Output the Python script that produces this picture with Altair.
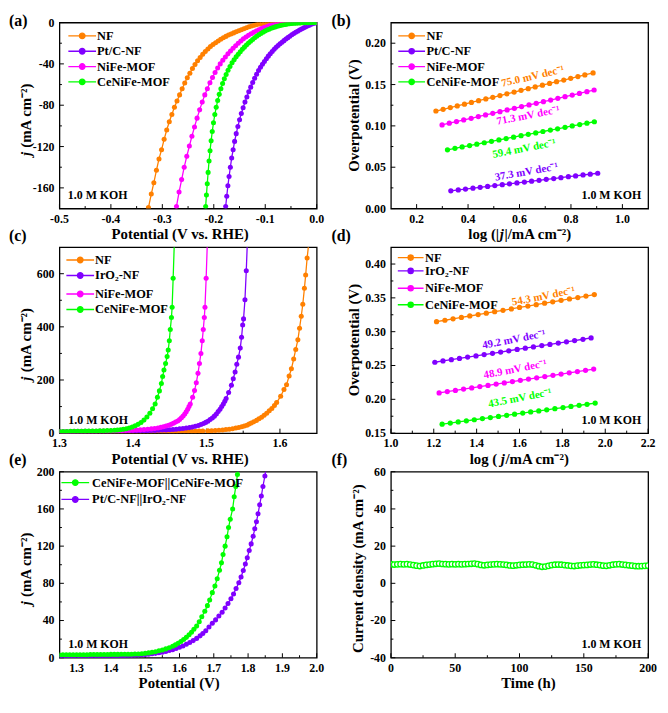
import altair as alt
import pandas as pd

FONT = "Liberation Serif"
W, H = 260, 188
TY = H + 26  # x-axis title position
ORANGE, PURPLE, MAGENTA, GREEN = "#FF8000", "#8000FF", "#FF00FF", "#00FF00"

# ---------------- (a) HER polarization ----------------
A_NF_X = [-0.3270,-0.3215,-0.3165,-0.3115,-0.3065,-0.3015,-0.2965,-0.2915,-0.2865,-0.2815,-0.2765,-0.2715,-0.2665,-0.2615,-0.2565,-0.2515,-0.2465,-0.2415,-0.2365,-0.2315,-0.2265,-0.2215,-0.2165,-0.2115,-0.2065,-0.2015,-0.1965,-0.1915,-0.1865,-0.1815,-0.1765,-0.1715,-0.1665,-0.1615,-0.1565,-0.1515,-0.1465,-0.1415,-0.1365,-0.1315,-0.1265,-0.1215,-0.1165,-0.1115,-0.1065,-0.1015,-0.0965,-0.0915,-0.0865,-0.0815,-0.0765,-0.0715,-0.0665,-0.0615,-0.0565,-0.0515,-0.0465,-0.0415,-0.0365,-0.0315,-0.0265,-0.0215,-0.0165,-0.0115,-0.0065,-0.0015]
A_NF_Y = [-179,-166,-155,-143,-132,-123,-113,-104,-96,-89,-82,-76,-70,-64,-58.5,-53.5,-49,-44.5,-40.5,-37,-33.8,-30.8,-28,-25.5,-23.3,-21.3,-19.5,-17.8,-16.2,-14.8,-13.4,-12.1,-11.0,-10.0,-9.0,-8.0,-7.0,-6.0,-5.0,-4.1,-3.3,-2.6,-2.0,-1.5,-1.15,-0.9,-0.7,-0.55,-0.45,-0.35,-0.3,-0.25,-0.2,-0.17,-0.15,-0.13,-0.11,-0.09,-0.08,-0.07,-0.06,-0.05,-0.04,-0.03,-0.02,-0.01]
A_PT_X = [-0.1769,-0.1748,-0.1726,-0.1703,-0.1678,-0.1652,-0.1624,-0.1595,-0.1564,-0.1532,-0.1499,-0.1465,-0.1430,-0.1394,-0.1357,-0.1320,-0.1282,-0.1244,-0.1206,-0.1168,-0.1130,-0.1092,-0.1054,-0.1016,-0.0978,-0.0940,-0.0902,-0.0864,-0.0826,-0.0788,-0.0750,-0.0712,-0.0674,-0.0636,-0.0598,-0.0560,-0.0522,-0.0484,-0.0446,-0.0408,-0.0370,-0.0332,-0.0294,-0.0256,-0.0218,-0.0180,-0.0142,-0.0104,-0.0066,-0.0028]
A_PT_Y = [-178,-168,-158,-149,-140,-131,-123,-115,-107.5,-100.5,-94,-88,-82.5,-77,-72,-67,-62.5,-58,-54,-50,-46.5,-43.2,-40.3,-37.6,-35,-32.5,-30.2,-28,-25.9,-24,-22.2,-20.5,-19,-17.5,-16,-14.6,-13.2,-11.9,-10.7,-9.5,-8.4,-7.3,-6.3,-5.3,-4.3,-3.4,-2.5,-1.7,-1.0,-0.4]
A_NIFE_X = [-0.2725,-0.2675,-0.2625,-0.2575,-0.2525,-0.2475,-0.2425,-0.2375,-0.2325,-0.2275,-0.2225,-0.2175,-0.2125,-0.2075,-0.2025,-0.1975,-0.1925,-0.1875,-0.1825,-0.1775,-0.1725,-0.1675,-0.1625,-0.1575,-0.1525,-0.1475,-0.1425,-0.1375,-0.1325,-0.1275,-0.1225,-0.1175,-0.1125,-0.1075,-0.1025,-0.0975,-0.0925,-0.0875,-0.0825,-0.0775,-0.0725,-0.0675,-0.0625,-0.0575,-0.0525,-0.0475,-0.0425,-0.0375,-0.0325,-0.0275,-0.0225,-0.0175,-0.0125,-0.0075,-0.0025]
A_NIFE_Y = [-178,-164,-152,-140,-129.5,-119.5,-110,-101,-92.5,-84.5,-77,-70,-64,-58.3,-53.2,-48.4,-44,-40,-36.5,-33.3,-30.3,-27.5,-24.9,-22.4,-20.0,-17.8,-15.8,-14.0,-12.4,-10.9,-9.5,-8.2,-7.0,-5.9,-4.9,-4.0,-3.2,-2.5,-1.9,-1.45,-1.1,-0.85,-0.65,-0.5,-0.4,-0.32,-0.25,-0.2,-0.16,-0.12,-0.09,-0.06,-0.04,-0.02,-0.01]
A_CE_X = [-0.2158,-0.2143,-0.2127,-0.2110,-0.2092,-0.2073,-0.2052,-0.2030,-0.2006,-0.1980,-0.1953,-0.1924,-0.1894,-0.1862,-0.1829,-0.1795,-0.1760,-0.1723,-0.1685,-0.1645,-0.1605,-0.1565,-0.1525,-0.1485,-0.1445,-0.1405,-0.1365,-0.1325,-0.1285,-0.1245,-0.1205,-0.1165,-0.1125,-0.1085,-0.1045,-0.1005,-0.0965,-0.0925,-0.0885,-0.0845,-0.0805,-0.0765,-0.0725,-0.0685,-0.0645,-0.0605,-0.0565,-0.0525,-0.0485,-0.0445,-0.0405,-0.0365,-0.0325,-0.0285,-0.0245,-0.0205,-0.0165,-0.0125,-0.0085,-0.0045,-0.0005]
A_CE_Y = [-178,-167,-156,-145,-134,-124,-114.5,-105.5,-97,-89,-82,-75.5,-69.5,-64,-59,-54.5,-50.2,-46.2,-42.5,-39,-36,-33.2,-30.6,-28.2,-25.9,-23.8,-21.8,-19.9,-18.1,-16.4,-14.8,-13.3,-11.9,-10.6,-9.4,-8.3,-7.3,-6.4,-5.6,-4.9,-4.2,-3.6,-3.1,-2.6,-2.2,-1.85,-1.5,-1.2,-0.95,-0.75,-0.6,-0.45,-0.35,-0.27,-0.2,-0.15,-0.1,-0.07,-0.04,-0.02,0]

# ---------------- (b) HER Tafel ----------------
B_NF_X = [0.275,0.303,0.331,0.358,0.386,0.413,0.441,0.469,0.496,0.524,0.551,0.579,0.606,0.634,0.661,0.689,0.717,0.744,0.772,0.799,0.827,0.854,0.886]
B_NF_Y = [0.1180,0.1201,0.1222,0.1242,0.1263,0.1284,0.1305,0.1326,0.1346,0.1367,0.1388,0.1409,0.1430,0.1450,0.1471,0.1492,0.1513,0.1534,0.1554,0.1575,0.1596,0.1617,0.1640]
B_PT_X = [0.333,0.362,0.390,0.419,0.447,0.476,0.504,0.533,0.561,0.590,0.619,0.647,0.676,0.704,0.733,0.761,0.790,0.818,0.847,0.875,0.904]
B_PT_Y = [0.0214,0.0225,0.0235,0.0246,0.0257,0.0267,0.0278,0.0289,0.0299,0.0310,0.0321,0.0331,0.0342,0.0353,0.0363,0.0374,0.0385,0.0395,0.0406,0.0416,0.0427]
B_NIFE_X = [0.299,0.327,0.355,0.383,0.412,0.440,0.468,0.496,0.524,0.552,0.580,0.608,0.637,0.665,0.693,0.721,0.749,0.777,0.805,0.833,0.862,0.890]
B_NIFE_Y = [0.1012,0.1032,0.1052,0.1072,0.1092,0.1112,0.1132,0.1152,0.1172,0.1193,0.1213,0.1233,0.1253,0.1273,0.1293,0.1313,0.1333,0.1353,0.1373,0.1393,0.1413,0.1434]
B_CE_X = [0.320,0.349,0.377,0.406,0.434,0.463,0.491,0.520,0.548,0.577,0.606,0.634,0.663,0.691,0.720,0.748,0.777,0.805,0.834,0.862,0.891]
B_CE_Y = [0.0711,0.0728,0.0745,0.0762,0.0779,0.0796,0.0813,0.0830,0.0847,0.0864,0.0881,0.0898,0.0915,0.0932,0.0949,0.0965,0.0982,0.0999,0.1016,0.1033,0.1050]

# ---------------- (c) OER polarization ----------------
C_NF_X = [1.300,1.305,1.310,1.315,1.320,1.325,1.330,1.335,1.340,1.345,1.350,1.355,1.360,1.365,1.370,1.375,1.380,1.385,1.390,1.395,1.400,1.405,1.410,1.415,1.420,1.425,1.430,1.435,1.440,1.445,1.450,1.455,1.460,1.465,1.470,1.475,1.480,1.485,1.490,1.495,
          1.502,1.507,1.512,1.517,1.522,1.5265,1.531,1.5355,1.540,1.544,1.548,1.5515,1.555,1.558,1.561,1.5645,1.568,1.5715,1.575,1.5785,1.582,1.5855,1.589,1.5925,1.5955,1.601,1.6055,1.609,1.6125,1.6156,1.6187,1.6215,1.6244,1.6267,1.629,1.6311,1.6333,1.635,1.637,1.641]
C_NF_Y = [4.5,4.5,4.6,4.6,4.7,4.7,4.8,4.8,4.9,4.9,5.0,5.0,5.1,5.1,5.2,5.2,5.3,5.4,5.4,5.5,5.6,5.6,5.7,5.8,5.9,6.0,6.1,6.2,6.3,6.4,6.5,6.6,6.7,6.8,6.9,7.0,7.2,7.4,7.6,7.9,
          8.5,9.2,10,11,12,13.4,15,16.9,19,21.4,24,27,30,34,38,43,48,54,60,67,75,84,93,104,115,139,164,182,215,242,279,315,351,395,440,485,545,595,659,760]
C_IR_X = [1.300,1.305,1.310,1.315,1.320,1.325,1.330,1.335,1.340,1.345,1.350,1.355,1.360,1.365,1.370,1.375,1.380,1.385,1.390,1.395,1.400,1.405,1.410,1.415,1.420,1.425,1.430,1.435,1.440,1.445,
          1.450,1.4545,1.459,1.4635,1.468,1.4725,1.477,1.481,1.485,1.489,1.4925,1.496,1.499,1.502,1.505,1.508,1.5108,1.5135,1.516,1.5185,1.5208,1.523,1.525,1.5268,1.5302,1.534,1.5365,1.539,1.5413,1.5436,1.546,1.5478,1.5493,1.5505,1.5524,1.5542,1.5565]
C_IR_Y = [5.0,5.1,5.2,5.3,5.4,5.5,5.6,5.7,5.8,5.9,6.0,6.2,6.3,6.5,6.7,6.9,7.1,7.3,7.5,7.8,8.0,8.3,8.6,8.9,9.3,9.7,10.2,10.8,11.5,12.2,
          13.0,13.9,14.9,16.1,17.4,19,20.8,23,25.7,29,32.3,36,40.5,45,51,57,64,72,81,90,100,110,120,130,153,180,205,230,259,286,320,361,407,430,502,611,780]
C_NIFE_X = [1.300,1.305,1.310,1.315,1.320,1.325,1.330,1.335,1.340,1.345,1.350,1.355,1.360,1.365,1.370,1.375,1.380,1.385,1.390,1.395,1.400,1.405,1.410,1.415,1.420,1.425,
            1.4295,1.434,1.438,1.4415,1.445,1.4485,1.452,1.455,1.458,1.461,1.4635,1.466,1.4683,1.4705,1.4725,1.4745,1.4763,1.478,1.4812,1.4838,1.4862,1.4885,1.4905,1.4925,1.4943,1.4957,1.4971,1.498,1.4996,1.502]
C_NIFE_Y = [6.2,6.3,6.4,6.5,6.6,6.7,6.8,6.9,7.0,7.2,7.4,7.6,7.8,8.0,8.3,8.6,8.9,9.3,9.7,10.2,10.8,11.5,12.3,13.3,14.5,16,
            17.7,19.6,21.7,24,26.5,29.5,33,37,41.5,46,51.5,58,64.5,72,80.5,90,100,110,135,160,190,225,262,300,348,390,435,474,583,780]
C_CE_X = [1.300,1.305,1.310,1.315,1.320,1.325,1.330,1.335,1.340,1.345,1.350,1.355,1.360,1.365,1.370,1.375,
          1.379,1.383,1.387,1.391,1.395,1.399,1.403,1.407,1.411,1.415,1.419,1.423,1.4267,1.4302,1.4333,1.436,1.4387,1.4404,1.4422,1.4444,1.4465,1.448,1.4495,1.4508,1.4524,1.4533,1.4547,1.4572]
C_CE_Y = [6.2,6.3,6.5,6.7,6.9,7.1,7.3,7.5,7.8,8.1,8.4,8.8,9.2,9.7,10.3,11.0,
          11.9,13.1,14.7,16.8,19.5,23,27.5,33,40,49,61,75,92,110,135,159,187,213,238,262,288,313,348,390,435,474,583,790]

# ---------------- (d) OER Tafel ----------------
D_NF_X = [1.213,1.252,1.290,1.329,1.368,1.407,1.445,1.484,1.523,1.562,1.600,1.639,1.678,1.717,1.755,1.794,1.833,1.872,1.910,1.949]
D_NF_Y = [0.3148,0.3169,0.3190,0.3211,0.3232,0.3253,0.3274,0.3295,0.3316,0.3337,0.3358,0.3379,0.3400,0.3421,0.3442,0.3463,0.3484,0.3505,0.3526,0.3548]
D_IR_X = [1.205,1.243,1.282,1.320,1.358,1.397,1.435,1.474,1.512,1.550,1.589,1.627,1.665,1.704,1.742,1.781,1.819,1.857,1.896,1.934]
D_IR_Y = [0.2548,0.2567,0.2586,0.2605,0.2624,0.2642,0.2661,0.2680,0.2699,0.2718,0.2737,0.2756,0.2775,0.2794,0.2812,0.2831,0.2850,0.2869,0.2888,0.2907]
D_NIFE_X = [1.225,1.263,1.301,1.339,1.377,1.415,1.453,1.491,1.529,1.567,1.604,1.642,1.680,1.718,1.756,1.794,1.832,1.870,1.908,1.946]
D_NIFE_Y = [0.2095,0.2114,0.2132,0.2151,0.2169,0.2188,0.2206,0.2225,0.2243,0.2262,0.2281,0.2299,0.2318,0.2336,0.2355,0.2373,0.2392,0.2410,0.2429,0.2448]
D_CE_X = [1.239,1.277,1.314,1.352,1.389,1.427,1.464,1.502,1.540,1.577,1.615,1.652,1.690,1.727,1.765,1.803,1.840,1.878,1.915,1.953]
D_CE_Y = [0.1633,0.1649,0.1666,0.1682,0.1698,0.1715,0.1731,0.1747,0.1764,0.1780,0.1796,0.1813,0.1829,0.1845,0.1862,0.1878,0.1895,0.1911,0.1927,0.1944]

# ---------------- (e) overall water splitting ----------------
E_CE_X = [1.25,1.26,1.27,1.28,1.29,1.30,1.31,1.32,1.33,1.34,1.35,1.36,1.37,1.38,1.39,1.40,1.41,1.42,1.43,1.44,1.45,1.46,1.47,
          1.48,1.49,1.50,1.51,1.52,1.53,1.54,1.55,1.56,1.57,1.58,1.588,1.596,1.604,1.612,1.62,1.628,1.635,1.642,1.65,1.6576,1.665,1.6738,1.6814,1.688,1.6957,1.7033,1.71,1.7167,1.7224,1.727,1.733,1.7386,1.743,1.748,1.755,1.7595,1.764,1.769,1.774]
E_CE_Y = [3.0,3.1,3.1,3.2,3.2,3.2,3.3,3.3,3.3,3.4,3.4,3.4,3.5,3.5,3.5,3.6,3.6,3.6,3.7,3.7,3.8,3.8,3.9,
          4.0,4.3,4.7,5.2,5.8,6.5,7.4,8.4,9.5,10.8,12.3,13.8,15.5,17.4,19.5,21.9,24.6,27.5,30.6,34,38.6,44,50,56,62,70,77,85,94,102,111,120,130,140,149,160,173,184,197,210]
E_PT_X = [1.25,1.26,1.27,1.28,1.29,1.30,1.31,1.32,1.33,1.34,1.35,1.36,1.37,1.38,1.39,1.40,1.41,1.42,1.43,1.44,1.45,
          1.46,1.47,1.48,1.49,1.50,1.51,1.52,1.53,1.54,1.55,1.56,1.57,1.58,1.59,1.60,1.61,1.62,1.63,1.64,1.65,1.66,1.668,1.6767,1.686,1.6957,1.7052,1.7148,1.7243,1.733,1.7414,1.75,1.7576,1.765,1.773,1.7795,1.786,1.792,1.7976,1.8033,1.809,1.8148,1.8195,1.8243,1.829,1.8338,1.8386,1.8433,1.849,1.853]
E_PT_Y = [1.5,1.5,1.5,1.6,1.6,1.6,1.6,1.7,1.7,1.7,1.8,1.8,1.8,1.9,1.9,2.0,2.0,2.1,2.2,2.2,2.3,
          2.4,2.6,2.8,3.1,3.4,3.8,4.2,4.7,5.3,6.0,6.8,7.7,8.7,9.9,11.2,12.7,14.4,16.3,18.4,20.8,23.5,26,29,33,37,40.7,44.8,49,53.4,58.3,63.4,68.6,74.5,80.7,86.9,93.8,100.7,107.6,115.2,122.4,130.7,138.6,146.2,154.8,164.5,173.8,184.1,195.5,204]

# ---------------- (f) stability ----------------
F_T = [0,2.5,5,7.5,10,12.5,15,17.5,20,22.5,25,27.5,30,32.5,35,37.5,40,42.5,45,47.5,50,52.5,55,57.5,60,62.5,65,67.5,70,72.5,75,77.5,80,82.5,85,87.5,90,92.5,95,97.5,100,
       102.5,105,107.5,110,112.5,115,117.5,120,122.5,125,127.5,130,132.5,135,137.5,140,142.5,145,147.5,150,152.5,155,157.5,160,162.5,165,167.5,170,172.5,175,177.5,180,182.5,185,187.5,190,192.5,195,197.5,200]
F_J = [10.3,10.1,10.2,10.3,10.2,10.3,10.1,9.8,9.5,9.3,9.6,9.9,10.1,10.3,10.5,10.6,10.4,10.3,10.2,10.3,10.2,10.3,10.2,10.3,10.4,10.5,10.6,10.3,9.9,9.7,9.9,10.1,10.2,10.3,10.2,10.1,9.9,9.6,9.5,9.7,9.9,
       10.0,10.1,10.2,10.1,9.7,9.2,8.9,9.0,9.4,9.8,10.0,10.1,10.0,9.8,9.6,9.4,9.3,9.5,9.7,9.8,9.9,10.1,10.2,10.0,9.8,9.5,9.4,9.7,10.0,10.2,10.3,10.1,9.9,9.7,9.5,9.3,9.2,9.3,9.4,9.5]

# ---------------- labels ----------------
NAMES_HER = ["NF", "Pt/C-NF", "NiFe-MOF", "CeNiFe-MOF"]
NAMES_OER = ["NF", "IrO\u2082-NF", "NiFe-MOF", "CeNiFe-MOF"]
NAMES_OWS = ["CeNiFe-MOF||CeNiFe-MOF", "Pt/C-NF||IrO\u2082-NF"]
COLORS4 = [ORANGE, PURPLE, MAGENTA, GREEN]
TAFEL_B = ["75.0 mV dec\u207b\u00b9", "37.3 mV dec\u207b\u00b9", "71.3 mV dec\u207b\u00b9", "59.4 mV dec\u207b\u00b9"]
TAFEL_D = ["54.3 mV dec\u207b\u00b9", "49.2 mV dec\u207b\u00b9", "48.9 mV dec\u207b\u00b9", "43.5 mV dec\u207b\u00b9"]

for a, b in [(A_NF_X, A_NF_Y), (A_PT_X, A_PT_Y), (A_NIFE_X, A_NIFE_Y), (A_CE_X, A_CE_Y),
             (C_NF_X, C_NF_Y), (C_IR_X, C_IR_Y), (C_NIFE_X, C_NIFE_Y), (C_CE_X, C_CE_Y),
             (E_CE_X, E_CE_Y), (E_PT_X, E_PT_Y), (F_T, F_J)]:
    assert len(a) == len(b), (len(a), len(b))

SHAPE = "M-1,0L1,0M0.2,0A0.2,0.2,0,1,1,-0.2,0A0.2,0.2,0,1,1,0.2,0Z"


def sc(dom):
    return alt.Scale(domain=dom, nice=False, zero=False)


def fmt(v, f):
    return str(int(round(v))) if f == "d" else format(v, f)


def txt(t, x, y, size=12, color="black", align="left", baseline="middle", angle=0, style="normal"):
    return alt.Chart(pd.DataFrame({"t": [t]})).mark_text(
        align=align, baseline=baseline, angle=angle, font=FONT, fontSize=size,
        fontWeight="bold", fontStyle=style, color=color).encode(
        x=alt.value(x), y=alt.value(y), text=alt.Text("t:N"))


def series(xs, ys, color, xs_, ys_, size=26, hollow=False):
    df = pd.DataFrame({"x": xs, "y": ys})
    enc = dict(x=alt.X("x:Q", scale=xs_, axis=None), y=alt.Y("y:Q", scale=ys_, axis=None))
    out = []
    if not hollow:
        out.append(alt.Chart(df).mark_line(color=color, strokeWidth=1.3, clip=True).encode(**enc))
        out.append(alt.Chart(df).mark_circle(color=color, size=size, opacity=1, clip=True).encode(**enc))
    else:
        out.append(alt.Chart(df).mark_point(shape="circle", filled=False, fill="white", fillOpacity=1,
                                            stroke=color, strokeWidth=1.3, size=size, opacity=1,
                                            clip=True).encode(**enc))
    return out


def ticks(xmaj, xmin, ymaj, ymin, xs_, ys_, xlab, xf, ylab, yf):
    out = []
    out.append(alt.Chart(pd.DataFrame({"v": xmaj})).mark_rule(color="black", strokeWidth=1).encode(
        x=alt.X("v:Q", scale=xs_, axis=None), y=alt.value(H), y2=alt.value(H - 4.5)))
    out.append(alt.Chart(pd.DataFrame({"v": xmin})).mark_rule(color="black", strokeWidth=1).encode(
        x=alt.X("v:Q", scale=xs_, axis=None), y=alt.value(H), y2=alt.value(H - 2.5)))
    out.append(alt.Chart(pd.DataFrame({"v": ymaj})).mark_rule(color="black", strokeWidth=1).encode(
        y=alt.Y("v:Q", scale=ys_, axis=None), x=alt.value(0), x2=alt.value(4.5)))
    out.append(alt.Chart(pd.DataFrame({"v": ymin})).mark_rule(color="black", strokeWidth=1).encode(
        y=alt.Y("v:Q", scale=ys_, axis=None), x=alt.value(0), x2=alt.value(2.5)))
    xl = pd.DataFrame({"v": xlab, "t": [fmt(v, xf) for v in xlab]})
    out.append(alt.Chart(xl).mark_text(font=FONT, fontSize=12, fontWeight="bold", color="black",
                                       align="center", baseline="top").encode(
        x=alt.X("v:Q", scale=xs_, axis=None), y=alt.value(H + 5.5), text=alt.Text("t:N")))
    yl = pd.DataFrame({"v": ylab, "t": [fmt(v, yf) for v in ylab]})
    out.append(alt.Chart(yl).mark_text(font=FONT, fontSize=12, fontWeight="bold", color="black",
                                       align="right", baseline="middle").encode(
        y=alt.Y("v:Q", scale=ys_, axis=None), x=alt.value(-5), text=alt.Text("t:N")))
    return out


def legend(names, colors, rows, cx, length, lx, size=12.5):
    out = []
    for n, c, r in zip(names, colors, rows):
        df = pd.DataFrame({"t": [n]})
        out.append(alt.Chart(df).mark_point(shape=SHAPE, filled=True, fill=c, stroke=c, strokeWidth=1.4,
                                            size=length ** 2, opacity=1).encode(
            x=alt.value(cx), y=alt.value(r)))
        out.append(alt.Chart(df).mark_text(align="left", baseline="middle", font=FONT, fontSize=size,
                                           fontWeight="bold", color="black").encode(
            x=alt.value(lx), y=alt.value(r), text=alt.Text("t:N")))
    return out


def annot(t, x, y, color, xs_, ys_, angle):
    df = pd.DataFrame({"x": [x], "y": [y], "t": [t]})
    return alt.Chart(df).mark_text(font=FONT, fontSize=11, fontWeight="bold", color=color, angle=angle,
                                   align="center", baseline="middle").encode(
        x=alt.X("x:Q", scale=xs_, axis=None), y=alt.Y("y:Q", scale=ys_, axis=None), text=alt.Text("t:N"))


def jtitle(x, cy):
    return [txt("j", x, cy + 37, size=15, align="left", angle=270, style="italic"),
            txt("(mA cm\u207b\u00b2)", x, cy + 28.5, size=15, align="left", angle=270)]


# ---------------- panel (a) ----------------
xa, ya = sc([-0.5, 0.0]), sc([-180, 0])
La = ticks([-0.5, -0.4, -0.3, -0.2, -0.1, 0.0], [-0.45, -0.35, -0.25, -0.15, -0.05],
           [0, -40, -80, -120, -160], [-20, -60, -100, -140], xa, ya,
           [-0.5, -0.4, -0.3, -0.2, -0.1, 0.0], ".1f", [0, -40, -80, -120, -160], "d")
for (xs, ys), c in zip([(A_NF_X, A_NF_Y), (A_PT_X, A_PT_Y), (A_NIFE_X, A_NIFE_Y), (A_CE_X, A_CE_Y)], COLORS4):
    La += series(xs, ys, c, xa, ya)
La += legend(NAMES_HER, COLORS4, [13.5, 29, 44.5, 60], 23, 28, 38)
La += [txt("1.0 M KOH", 8.5, H - 14), txt("Potential (V vs. RHE)", W / 2 - 8, TY, size=15, align="center")]
La += jtitle(-34, H / 2 + 4)
La += [txt("(a)", -51, -10, size=16, baseline="top")]
pa = alt.layer(*La).properties(width=W, height=H)

# ---------------- panel (b) ----------------
xb, yb = sc([0.1, 1.1]), sc([0.0, 0.225])
Lb = ticks([0.2, 0.4, 0.6, 0.8, 1.0], [0.3, 0.5, 0.7, 0.9],
           [0.0, 0.05, 0.10, 0.15, 0.20], [0.025, 0.075, 0.125, 0.175], xb, yb,
           [0.2, 0.4, 0.6, 0.8, 1.0], ".1f", [0.0, 0.05, 0.10, 0.15, 0.20], ".2f")
for (xs, ys), c in zip([(B_NF_X, B_NF_Y), (B_PT_X, B_PT_Y), (B_NIFE_X, B_NIFE_Y), (B_CE_X, B_CE_Y)], COLORS4):
    Lb += series(xs, ys, c, xb, yb, size=28)
Lb += legend(NAMES_HER, COLORS4, [13.5, 29, 44.5, 60], 21, 27, 36)
Lb += [annot(TAFEL_B[0], 0.652, 0.1595, ORANGE, xb, yb, 347),
       annot(TAFEL_B[2], 0.634, 0.1122, MAGENTA, xb, yb, 349),
       annot(TAFEL_B[3], 0.618, 0.0722, GREEN, xb, yb, 349),
       annot(TAFEL_B[1], 0.627, 0.0440, PURPLE, xb, yb, 350)]
Lb += [txt("1.0 M KOH", W - 7, H - 13.5, align="right"),
       txt("Overpotential (V)", -37, H / 2, size=15, align="center", angle=270),
       txt("log (|", W / 2 - 20.6, TY, size=15, align="right"),
       txt("j", W / 2 - 18, TY, size=15, align="center", style="italic"),
       txt("|/mA cm\u207b\u00b2)", W / 2 - 15.2, TY, size=15, align="left"),
       txt("(b)", -60, -10, size=16, baseline="top")]
pb = alt.layer(*Lb).properties(width=W, height=H)

# ---------------- panel (c) ----------------
xc, yc = sc([1.3, 1.65]), sc([0, 700])
Lc = ticks([1.3, 1.4, 1.5, 1.6], [1.35, 1.45, 1.55], [0, 200, 400, 600], [100, 300, 500], xc, yc,
           [1.3, 1.4, 1.5, 1.6], ".1f", [0, 200, 400, 600], "d")
for (xs, ys), c in zip([(C_NF_X, C_NF_Y), (C_IR_X, C_IR_Y), (C_NIFE_X, C_NIFE_Y), (C_CE_X, C_CE_Y)], COLORS4):
    Lc += series(xs, ys, c, xc, yc)
Lc += legend(NAMES_OER, COLORS4, [13, 28.7, 47.3, 63], 21, 28, 36)
Lc += [txt("1.0 M KOH", 9, H - 13), txt("Potential (V vs. RHE)", W / 2 - 8, TY, size=15, align="center")]
Lc += jtitle(-34, H / 2 + 4)
Lc += [txt("(c)", -51, -19, size=16, baseline="top")]
pc = alt.layer(*Lc).properties(width=W, height=H)

# ---------------- panel (d) ----------------
xd, yd = sc([1.0, 2.2]), sc([0.15, 0.425])
Ld = ticks([1.0, 1.2, 1.4, 1.6, 1.8, 2.0, 2.2], [1.1, 1.3, 1.5, 1.7, 1.9, 2.1],
           [0.15, 0.20, 0.25, 0.30, 0.35, 0.40], [0.175, 0.225, 0.275, 0.325, 0.375], xd, yd,
           [1.0, 1.2, 1.4, 1.6, 1.8, 2.0, 2.2], ".1f", [0.15, 0.20, 0.25, 0.30, 0.35, 0.40], ".2f")
for (xs, ys), c in zip([(D_NF_X, D_NF_Y), (D_IR_X, D_IR_Y), (D_NIFE_X, D_NIFE_Y), (D_CE_X, D_CE_Y)], COLORS4):
    Ld += series(xs, ys, c, xd, yd, size=28)
Ld += legend(NAMES_OER, COLORS4, [10.6, 24, 41.6, 58.3], 20, 26, 34.5)
Ld += [annot(TAFEL_D[0], 1.712, 0.352, ORANGE, xd, yd, 349),
       annot(TAFEL_D[1], 1.574, 0.288, PURPLE, xd, yd, 349),
       annot(TAFEL_D[2], 1.580, 0.244, MAGENTA, xd, yd, 349),
       annot(TAFEL_D[3], 1.602, 0.2014, GREEN, xd, yd, 349)]
Ld += [txt("1.0 M KOH", W - 7, H - 13, align="right"),
       txt("Overpotential (V)", -37, H / 2, size=15, align="center", angle=270),
       txt("log (", W / 2 - 22.5, TY, size=15, align="right"),
       txt("j", W / 2 - 17, TY, size=15, align="center", style="italic"),
       txt("/mA cm\u207b\u00b2)", W / 2 - 14.2, TY, size=15, align="left"),
       txt("(d)", -60, -19, size=16, baseline="top")]
pd_ = alt.layer(*Ld).properties(width=W, height=H)

# ---------------- panel (e) ----------------
xe, ye = sc([1.25, 2.0]), sc([0, 200])
Le = ticks([1.3, 1.4, 1.5, 1.6, 1.7, 1.8, 1.9, 2.0], [1.35, 1.45, 1.55, 1.65, 1.75, 1.85, 1.95],
           [0, 40, 80, 120, 160, 200], [20, 60, 100, 140, 180], xe, ye,
           [1.3, 1.4, 1.5, 1.6, 1.7, 1.8, 1.9, 2.0], ".1f", [0, 40, 80, 120, 160, 200], "d")
Le += series(E_PT_X, E_PT_Y, PURPLE, xe, ye)
Le += series(E_CE_X, E_CE_Y, GREEN, xe, ye)
Le += legend(NAMES_OWS, [GREEN, PURPLE], [11, 28], 16, 28, 33)
Le += [txt("1.0 M KOH", 9, H - 14), txt("Potential (V)", W / 2 - 9, TY, size=15, align="center")]
Le += jtitle(-34, H / 2 + 4)
Le += [txt("(e)", -51, -20, size=16, baseline="top")]
pe = alt.layer(*Le).properties(width=W, height=H)

# ---------------- panel (f) ----------------
xf, yf = sc([0, 200]), sc([-40, 60])
Lf = ticks([0, 50, 100, 150, 200], [25, 75, 125, 175], [-40, -20, 0, 20, 40, 60], [-30, -10, 10, 30, 50],
           xf, yf, [0, 50, 100, 150, 200], "d", [-40, -20, 0, 20, 40, 60], "d")
Lf += series(F_T, F_J, GREEN, xf, yf, size=30, hollow=True)
Lf += [txt("1.0 M KOH", W - 7, H - 14, align="right"),
       txt("Current density (mA cm\u207b\u00b2)", -33, H / 2 + 4, size=15, align="center", angle=270),
       txt("Time (h)", W / 2 + 9, TY, size=15, align="center"),
       txt("(f)", -60, -20, size=16, baseline="top")]
pf = alt.layer(*Lf).properties(width=W, height=H)

chart = alt.concat(
    pa, pb, pc, pd_, pe, pf, columns=2,
    spacing={"row": 39, "column": 75}, bounds="flush",
).properties(padding={"left": 0, "top": 0, "right": 2, "bottom": 2}).configure_view(
    stroke="black", strokeWidth=1.3)

chart.save("out.html", embed_options={"renderer": "svg", "actions": False})
